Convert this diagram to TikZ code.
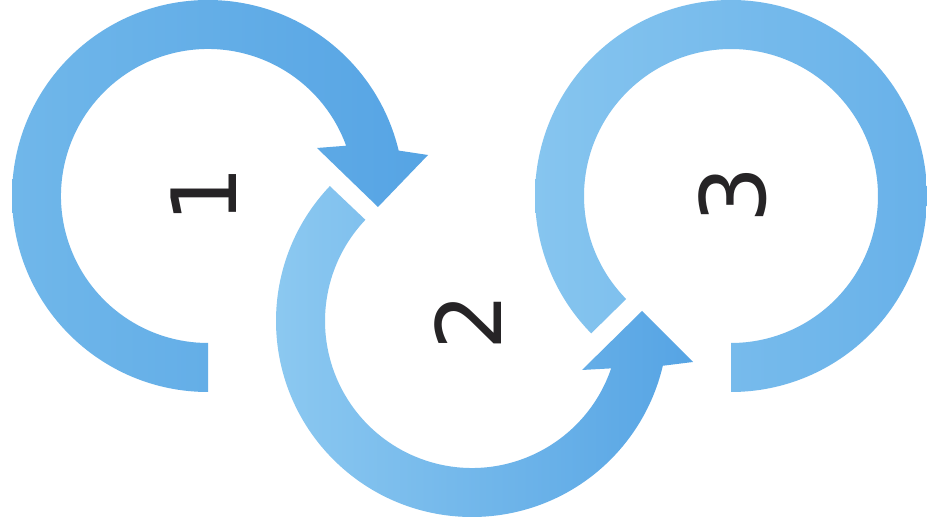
\documentclass[tikz,border=0pt]{standalone}
\usepackage{fontspec}
\newfontfamily\digitfont{DejaVu Sans}
\definecolor{ringA}{RGB}{112,183,234}
\definecolor{ringAdark}{RGB}{86,164,228}
\definecolor{ringB}{RGB}{142,202,241}
\definecolor{ringBdark}{RGB}{86,164,228}
\definecolor{ringC}{RGB}{134,197,239}
\definecolor{ringCdark}{RGB}{104,177,233}
\definecolor{numcol}{RGB}{38,36,38}
\tikzset{
  numlabel/.style={font=\digitfont\fontsize{90}{90}\selectfont, text=numcol, inner sep=0pt, rotate=90}
}
\begin{document}
\begin{tikzpicture}[x=1pt,y=1pt]
\useasboundingbox (0,0) rectangle (927,528);
\fill[white] (0,0) rectangle (927,528);
\coordinate (c1) at (208,332);
\coordinate (c2) at (472,207);
\coordinate (c3) at (731,332);
% ring 1
\shade[left color=ringA, right color=ringAdark]
  ([shift={(270:196pt)}]c1) arc[start angle=270, end angle=13.4, radius=196pt]
  -- (428,373) -- (378,321) -- (317,380)
  -- ([shift={(20:147pt)}]c1) arc[start angle=20, end angle=270, radius=147pt] -- cycle;
% ring 2
\shade[left color=ringB, right color=ringBdark]
  ([shift={(136.5:196pt)}]c2) arc[start angle=136.5, end angle=346.8, radius=196pt]
  -- (693,166) -- (642,217) -- (582,158)
  -- ([shift={(341.2:147pt)}]c2) arc[start angle=341.2, end angle=136.5, radius=147pt] -- cycle;
% ring 3
\shade[left color=ringC, right color=ringCdark]
  ([shift={(-90:196pt)}]c3) arc[start angle=-90, end angle=224.5, radius=196pt]
  -- ([shift={(224.5:147pt)}]c3) arc[start angle=224.5, end angle=-90, radius=147pt] -- cycle;
\node[numlabel] (n1) at (204,333) {1};
\node[numlabel] (n2) at (468,206) {2};
\node[numlabel] (n3) at (733,333) {3};
\end{tikzpicture}
\end{document}
